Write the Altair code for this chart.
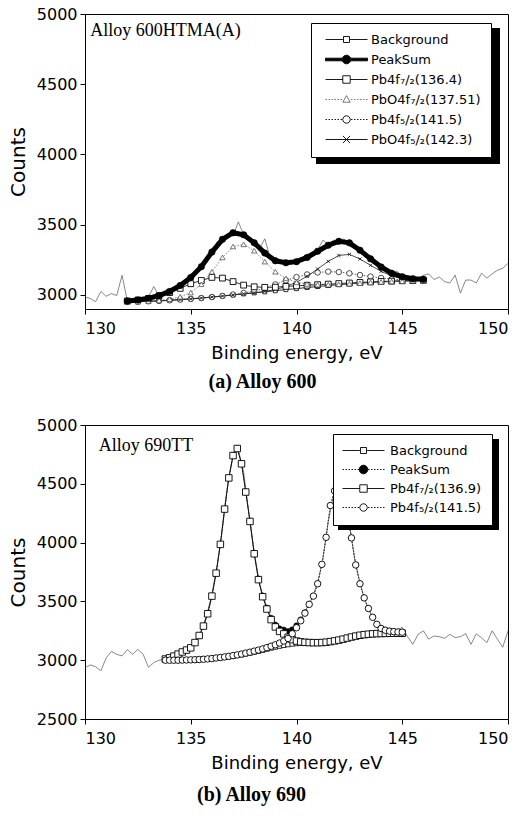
import altair as alt
import pandas as pd

# ---------------- data ----------------
raw_x = [130.0, 130.25, 130.5, 130.75, 131.0, 131.25, 131.5, 131.75, 132.0, 132.25,
         132.5, 132.75, 133.0, 133.25, 133.5, 133.75, 134.0, 134.25, 134.5, 134.75,
         135.0, 135.25, 135.5, 135.75, 136.0, 136.25, 136.5, 136.75, 137.0, 137.25,
         137.5, 137.75, 138.0, 138.25, 138.5, 138.75, 139.0, 139.25, 139.5, 139.75,
         140.0, 140.25, 140.5, 140.75, 141.0, 141.25, 141.5, 141.75, 142.0, 142.25,
         142.5, 142.75, 143.0, 143.25, 143.5, 143.75, 144.0, 144.25, 144.5, 144.75,
         145.0, 145.25, 145.5, 145.75, 146.0, 146.25, 146.5, 146.75, 147.0, 147.25,
         147.5, 147.75, 148.0, 148.25, 148.5, 148.75, 149.0, 149.25, 149.5, 149.75,
         150.0]

# (a) Alloy 600 - measured spectrum
raw_a = [2985, 2975, 2952, 3025, 2990, 3010, 2995, 3140, 2960, 2945,
         2970, 2960, 2985, 3060, 2990, 3015, 3030, 3040, 3075, 3090,
         3120, 3180, 3190, 3260, 3290, 3380, 3370, 3430, 3420, 3520,
         3430, 3410, 3370, 3330, 3400, 3270, 3250, 3225, 3240, 3215,
         3250, 3245, 3290, 3280, 3320, 3390, 3360, 3390, 3370, 3400,
         3350, 3330, 3320, 3270, 3270, 3230, 3200, 3180, 3160, 3170,
         3130, 3120, 3125, 3115, 3140, 3150, 3110, 3128, 3095, 3085,
         3141, 3014, 3106, 3106, 3085, 3155, 3120, 3150, 3176, 3190,
         3225]

# (a) fitted curves
a_x = [132.0, 132.5, 133.0, 133.5, 134.0, 134.5, 135.0, 135.5, 136.0, 136.5,
       137.0, 137.5, 138.0, 138.5, 139.0, 139.5, 140.0, 140.5, 141.0, 141.5,
       142.0, 142.5, 143.0, 143.5, 144.0, 144.5, 145.0, 145.5, 146.0]
a_bg = [2950, 2952, 2955, 2958, 2962, 2967, 2972, 2978, 2985, 2992,
        3000, 3008, 3015, 3022, 3030, 3038, 3045, 3053, 3060, 3067,
        3073, 3079, 3084, 3089, 3093, 3096, 3099, 3101, 3103]
a_sum = [2957, 2964, 2976, 2996, 3025, 3067, 3125, 3201, 3305, 3396,
         3443, 3428, 3371, 3298, 3243, 3229, 3237, 3267, 3311, 3354,
         3382, 3371, 3319, 3257, 3199, 3155, 3129, 3116, 3112]
a_pb72 = [2957, 2964, 2975, 2993, 3017, 3047, 3080, 3103, 3125, 3120,
          3095, 3070, 3058, 3054, 3055, 3061, 3065, 3069, 3073, 3077,
          3081, 3085, 3089, 3093, 3096, 3098, 3101, 3102, 3104]
a_pbo72 = [2950, 2952, 2956, 2961, 2970, 2987, 3017, 3076, 3165, 3267,
           3345, 3360, 3315, 3237, 3165, 3118, 3090, 3078, 3073, 3073,
           3076, 3080, 3084, 3089, 3093, 3096, 3099, 3101, 3103]
a_pb52 = [2950, 2952, 2955, 2958, 2962, 2967, 2972, 2978, 2985, 2993,
          3003, 3014, 3028, 3048, 3075, 3104, 3127, 3146, 3160, 3166,
          3163, 3154, 3142, 3131, 3121, 3113, 3108, 3106, 3106]
a_pbo52 = [2950, 2952, 2955, 2958, 2962, 2967, 2972, 2978, 2985, 2992,
           3000, 3008, 3015, 3025, 3038, 3060, 3090, 3133, 3185, 3239,
           3281, 3289, 3256, 3211, 3168, 3136, 3118, 3110, 3108]

# (b) Alloy 690 - measured spectrum
raw_b = [2935, 2960, 2945, 2910, 3020, 3075, 3050, 3036, 3090, 3050,
         3092, 3050, 2940, 2979, 3000, 3007, 3030, 3040, 3060, 3080,
         3110, 3160, 3250, 3380, 3560, 3810, 4120, 4500, 4740, 4790,
         4600, 4250, 3920, 3650, 3500, 3380, 3300, 3270, 3240, 3260,
         3290, 3360, 3450, 3530, 3660, 3860, 4180, 4400, 4460, 4380,
         4150, 3860, 3660, 3500, 3400, 3320, 3275, 3250, 3240, 3255,
         3280, 3200, 3135, 3220, 3250, 3180, 3206, 3200, 3186, 3220,
         3192, 3200, 3226, 3135, 3225, 3190, 3149, 3250, 3178, 3110,
         3250]

# (b) fitted curves
b_x = [133.8, 134.0, 134.2, 134.4, 134.6, 134.8, 135.0, 135.2, 135.4, 135.6,
       135.8, 136.0, 136.2, 136.4, 136.6, 136.8, 137.0, 137.2, 137.4, 137.6,
       137.8, 138.0, 138.2, 138.4, 138.6, 138.8, 139.0, 139.2, 139.4, 139.6,
       139.8, 140.0, 140.2, 140.4, 140.6, 140.8, 141.0, 141.2, 141.4, 141.6,
       141.8, 142.0, 142.2, 142.4, 142.6, 142.8, 143.0, 143.2, 143.4, 143.6,
       143.8, 144.0, 144.2, 144.4, 144.6, 144.8, 145.0]
b_bg = [3000, 3000, 3000, 3000, 3001, 3002, 3003, 3004, 3006, 3008,
        3011, 3014, 3018, 3022, 3026, 3031, 3036, 3042, 3048, 3055,
        3062, 3070, 3078, 3087, 3096, 3105, 3113, 3121, 3128, 3134,
        3139, 3143, 3145, 3146, 3146, 3146, 3147, 3149, 3152, 3157,
        3163, 3170, 3178, 3187, 3196, 3204, 3211, 3216, 3220, 3223,
        3225, 3226, 3227, 3228, 3228, 3228, 3228]
b_sum = [3010, 3020, 3035, 3052, 3070, 3086, 3105, 3150, 3210, 3290,
         3395, 3545, 3741, 3986, 4287, 4552, 4743, 4803, 4674, 4435,
         4186, 3912, 3693, 3549, 3446, 3359, 3301, 3270, 3259, 3246,
         3261, 3296, 3346, 3406, 3479, 3548, 3652, 3816, 4046, 4316,
         4441, 4471, 4411, 4261, 4041, 3811, 3651, 3531, 3441, 3366,
         3306, 3271, 3256, 3248, 3244, 3241, 3239]
b_pb72 = [3010, 3020, 3035, 3052, 3070, 3086, 3105, 3150, 3210, 3290,
          3395, 3545, 3740, 3985, 4285, 4550, 4740, 4800, 4670, 4430,
          4180, 3905, 3685, 3540, 3435, 3345, 3283, 3245, 3224, 3195,
          3175, 3163, 3156, 3152, 3150, 3149, 3149, 3150, 3153, 3158,
          3164, 3171, 3179, 3188, 3197, 3205, 3212, 3217, 3221, 3224,
          3226, 3227, 3228, 3229, 3229, 3229, 3229]
b_pb52 = [3000, 3000, 3000, 3000, 3001, 3002, 3003, 3004, 3006, 3008,
          3011, 3014, 3019, 3023, 3028, 3033, 3039, 3045, 3052, 3060,
          3068, 3077, 3086, 3096, 3107, 3119, 3131, 3146, 3163, 3185,
          3225, 3276, 3335, 3400, 3475, 3545, 3650, 3815, 4045, 4315,
          4440, 4470, 4410, 4260, 4040, 3810, 3650, 3530, 3440, 3365,
          3305, 3270, 3255, 3247, 3243, 3240, 3238]

names_a = ["Background", "PeakSum", "Pb4f\u2087/\u2082(136.4)", "PbO4f\u2087/\u2082(137.51)",
           "Pb4f\u2085/\u2082(141.5)", "PbO4f\u2085/\u2082(142.3)"]
names_b = ["Background", "PeakSum", "Pb4f\u2087/\u2082(136.9)", "Pb4f\u2085/\u2082(141.5)"]

x_ticks = [130, 135, 140, 145, 150]
ya_ticks = [3000, 3500, 4000, 4500, 5000]
yb_ticks = [2500, 3000, 3500, 4000, 4500, 5000]

note_a = ["Alloy 600HTMA(A)"]
note_a_x = [130.25]
note_a_y = [4840]
note_b = ["Alloy 690TT"]
note_b_x = [130.65]
note_b_y = [4780]

# ---------------- styling ----------------
FONT = "DejaVu Sans"
SERIF = "Liberation Serif"

DOT = ("M-3.5,0H-3.25M-3,0H-2.75M-2.5,0H-2.25M-2,0H-1.75M-1.5,0H-1.25M-1,0H-0.75"
       "M0.75,0H1M1.25,0H1.5M1.75,0H2M2.25,0H2.5M2.75,0H3M3.25,0H3.5")
SOLID = "M-3.5,0H-0.6M0.6,0H3.5"
SQ_S = "M-0.5,-0.5H0.5V0.5H-0.5Z"
SQ_L = "M-0.62,-0.62H0.62V0.62H-0.62Z"
CIRC = "M-0.62,0A0.62,0.62,0,1,0,0.62,0A0.62,0.62,0,1,0,-0.62,0Z"
CIRC_F = "M-0.72,0A0.72,0.72,0,1,0,0.72,0A0.72,0.72,0,1,0,-0.72,0Z"
TRI = "M0,-0.65L0.62,0.45H-0.62Z"
XMARK = "M-0.6,-0.6L0.6,0.6M-0.6,0.6L0.6,-0.6"
THICK = "M-3.5,-0.22H-0.6V0.22H-3.5ZM0.6,-0.22H3.5V0.22H0.6Z"

paths_a = [SOLID + SQ_S, THICK + CIRC_F, SOLID + SQ_L, DOT + TRI, DOT + CIRC, "M-3.5,0H3.5" + XMARK]
fills_a = ["white", "black", "white", "white", "white", "white"]
strokes_a = ["black", "black", "black", "#666666", "black", "black"]
paths_b = [SOLID + SQ_S, DOT + CIRC_F, SOLID + SQ_L, DOT + CIRC]
fills_b = ["white", "black", "white", "white"]
strokes_b = ["black", "black", "black", "black"]


def x_enc():
    return alt.X("x:Q", scale=alt.Scale(domain=[130, 150], nice=False, zero=False),
                 axis=alt.Axis(values=x_ticks, title="Binding energy, eV", format="d",
                               labelFont=FONT, labelFontSize=16, labelColor="black",
                               labelPadding=6, tickSize=5, tickColor="black",
                               domainColor="black", grid=False,
                               titleFont=FONT, titleFontSize=18, titleFontWeight="normal",
                               titleColor="black", titlePadding=8))


def y_enc(domain, ticks):
    return alt.Y("y:Q", scale=alt.Scale(domain=domain, nice=False, zero=False),
                 axis=alt.Axis(values=ticks, title="Counts", format="d",
                               labelFont=FONT, labelFontSize=16, labelColor="black",
                               labelPadding=3, tickSize=5, tickColor="black",
                               domainColor="black", grid=False,
                               titleFont=FONT, titleFontSize=20, titleFontWeight="normal",
                               titleColor="black", titlePadding=8))


def series(xs, ys, domain, ticks, line_kw, point_kw):
    df = pd.DataFrame({"x": xs, "y": ys})
    base = alt.Chart(df).encode(x=x_enc(), y=y_enc(domain, ticks))
    layers = [base.mark_line(clip=True, **line_kw)]
    if point_kw is not None:
        layers.append(base.mark_point(clip=True, filled=True, opacity=1, **point_kw))
    return layers


def legend_layer(field, names, paths, fills, strokes, lx, ly, so, lo, rp):
    lg = alt.Legend(orient="none", legendX=lx, legendY=ly, title=None,
                    strokeColor="black", fillColor="white", padding=10,
                    labelFont=FONT, labelFontSize=13, labelColor="black", labelLimit=250,
                    symbolSize=144, symbolOffset=so, labelOffset=lo,
                    symbolStrokeWidth=0.9, symbolOpacity=1, rowPadding=rp)
    df = pd.DataFrame({field: names})
    return alt.Chart(df).mark_point(opacity=0, filled=True).encode(
        shape=alt.Shape(f"{field}:N", scale=alt.Scale(domain=names, range=paths), legend=lg),
        fill=alt.Fill(f"{field}:N", scale=alt.Scale(domain=names, range=fills), legend=lg),
        stroke=alt.Stroke(f"{field}:N", scale=alt.Scale(domain=names, range=strokes), legend=lg),
    )


def shadow_layer(x1, x2, y1, y2):
    # drop shadow behind the legend frame (pixel decoration, not data)
    return alt.Chart(pd.DataFrame({"k": [0]})).mark_rect(color="black").encode(
        x=alt.value(x1), x2=alt.value(x2), y=alt.value(y1), y2=alt.value(y2))


def note_layer(txt, xs, ys, domain, ticks):
    df = pd.DataFrame({"x": xs, "y": ys, "t": txt})
    return alt.Chart(df).mark_text(align="left", baseline="alphabetic", font=SERIF,
                                   fontSize=18, color="black").encode(
        x=x_enc(), y=y_enc(domain, ticks), text="t:N")


# ---------------- panel (a) ----------------
DA = [2900, 5000]
la = []
la += series(raw_x, raw_a, DA, ya_ticks, dict(color="#555555", strokeWidth=0.7), None)
la += series(a_x, a_bg, DA, ya_ticks, dict(color="black", strokeWidth=0.8),
             dict(shape="square", size=16, fill="white", stroke="black", strokeWidth=0.8))
la += series(a_x, a_pb52, DA, ya_ticks, dict(color="#333", strokeWidth=0.8, strokeDash=[1.5, 1.5]),
             dict(shape="circle", size=30, fill="white", stroke="#222", strokeWidth=0.8))
la += series(a_x, a_pbo52, DA, ya_ticks, dict(color="#222", strokeWidth=0.8),
             dict(shape=XMARK, size=30, fill="white", stroke="#222", strokeWidth=0.9))
la += series(a_x, a_pb72, DA, ya_ticks, dict(color="black", strokeWidth=0.8),
             dict(shape="square", size=34, fill="white", stroke="black", strokeWidth=0.9))
la += series(a_x, a_pbo72, DA, ya_ticks, dict(color="#666", strokeWidth=0.8, strokeDash=[1.5, 1.5]),
             dict(shape="triangle-up", size=28, fill="white", stroke="#555", strokeWidth=0.8))
la += series(a_x, a_sum, DA, ya_ticks, dict(color="black", strokeWidth=5),
             dict(shape="circle", size=42, fill="black", stroke="black", strokeWidth=0.5))
la.append(note_layer(note_a, note_a_x, note_a_y, DA, ya_ticks))
la.append(shadow_layer(231, 415, 14, 150))
la.append(legend_layer("sa", names_a, paths_a, fills_a, strokes_a, 226, 9, 19, 18, 6))

panel_a = alt.layer(*la).properties(
    width=423, height=295,
    title=alt.TitleParams("(a) Alloy 600", orient="bottom", font=SERIF, fontSize=20,
                          fontWeight="bold", color="black", anchor="middle", dx=-34, offset=10),
)

# ---------------- panel (b) ----------------
DB = [2500, 5000]
lb = []
lb += series(raw_x, raw_b, DB, yb_ticks, dict(color="#555555", strokeWidth=0.7), None)
lb += series(b_x, b_bg, DB, yb_ticks, dict(color="black", strokeWidth=0.8),
             dict(shape="square", size=22, fill="white", stroke="black", strokeWidth=0.8))
lb += series(b_x, b_sum, DB, yb_ticks, dict(color="#333", strokeWidth=0.8, strokeDash=[1.5, 1.5]),
             dict(shape="circle", size=30, fill="black", stroke="black", strokeWidth=0.5))
lb += series(b_x, b_pb72, DB, yb_ticks, dict(color="black", strokeWidth=0.9),
             dict(shape="square", size=42, fill="white", stroke="black", strokeWidth=0.9))
lb += series(b_x, b_pb52, DB, yb_ticks, dict(color="#333", strokeWidth=0.9, strokeDash=[1.5, 1.5]),
             dict(shape="circle", size=42, fill="white", stroke="black", strokeWidth=0.9))
lb.append(note_layer(note_b, note_b_x, note_b_y, DB, yb_ticks))
lb.append(shadow_layer(253, 414, 14, 105))
lb.append(legend_layer("sb", names_b, paths_b, fills_b, strokes_b, 248, 9, 14, 20, 5))

panel_b = alt.layer(*lb).properties(
    width=423, height=294,
    title=alt.TitleParams("(b) Alloy 690", orient="bottom", font=SERIF, fontSize=20,
                          fontWeight="bold", color="black", anchor="middle", dx=-45, offset=13),
)

chart = alt.vconcat(panel_a, panel_b, spacing=116, bounds="flush").resolve_scale(
    x="independent", y="independent", shape="independent", fill="independent",
    stroke="independent"
).resolve_legend(shape="independent", fill="independent", stroke="independent").configure_view(
    stroke="black", strokeWidth=1
).properties(
    padding={"left": 7, "top": 5, "right": 0, "bottom": 0}, background="white"
)

chart.save("out.html", embed_options={"renderer": "svg", "actions": False})
